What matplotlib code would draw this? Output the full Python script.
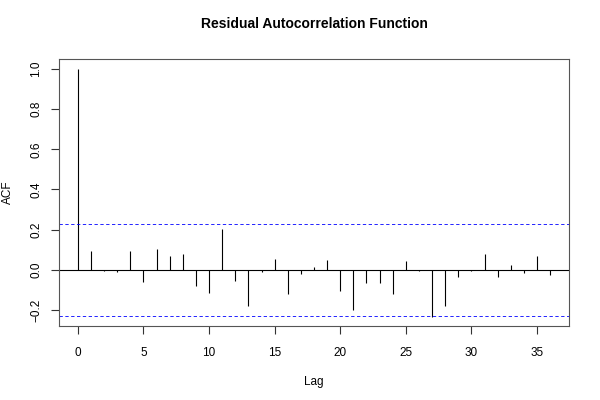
import numpy as np
import matplotlib
matplotlib.use("Agg")
import matplotlib.pyplot as plt

plt.rcParams['font.family'] = ['Liberation Sans', 'DejaVu Sans']

lags = np.arange(0, 37)
acf = [1.0, 0.095, -0.005, -0.012, 0.095, -0.062, 0.106, 0.070, 0.077, -0.078,
       -0.115, 0.201, -0.057, -0.181, -0.012, 0.052, -0.120, -0.021, 0.012, 0.047,
       -0.106, -0.201, -0.065, -0.067, -0.121, 0.045, -0.007, -0.236, -0.180, -0.037,
       -0.006, 0.078, -0.033, 0.022, -0.017, 0.070, -0.027]
conf = 0.2297

fig = plt.figure(figsize=(6, 4), dpi=100)
ax = fig.add_axes([59/600, 74/400, 510/600, 267/400])

ax.vlines(lags, 0, acf, color='black', lw=0.8)
ax.axhline(0, color='black', lw=0.8)
ax.axhline(conf, color='blue', lw=0.6, ls=(0, (4, 3)))
ax.axhline(-conf, color='blue', lw=0.6, ls=(0, (4, 3)))

ax.set_xlim(-1.44, 37.44)
ax.set_ylim(-0.279, 1.049)
ax.set_xticks(range(0, 36, 5))
ax.set_yticks([-0.2, 0.0, 0.2, 0.4, 0.6, 0.8, 1.0])
ax.set_yticklabels(["\u22120.2", "0.0", "0.2", "0.4", "0.6", "0.8", "1.0"], rotation=90, va='center')
ax.tick_params(direction='out', length=6, width=0.8, labelsize=8.5, colors='#333333', labelcolor='black')
ax.tick_params(axis='x', pad=9)
ax.tick_params(axis='y', pad=6)
for s in ax.spines.values():
    s.set_linewidth(0.8)
    s.set_color('#555555')

ax.set_xlabel("Lag", fontsize=8.5, labelpad=12)
ax.set_ylabel("ACF", fontsize=8.5, labelpad=12)
ax.set_title("Residual Autocorrelation Function", fontsize=10, fontweight='bold', pad=22)

fig.savefig("out.png", dpi=100)
